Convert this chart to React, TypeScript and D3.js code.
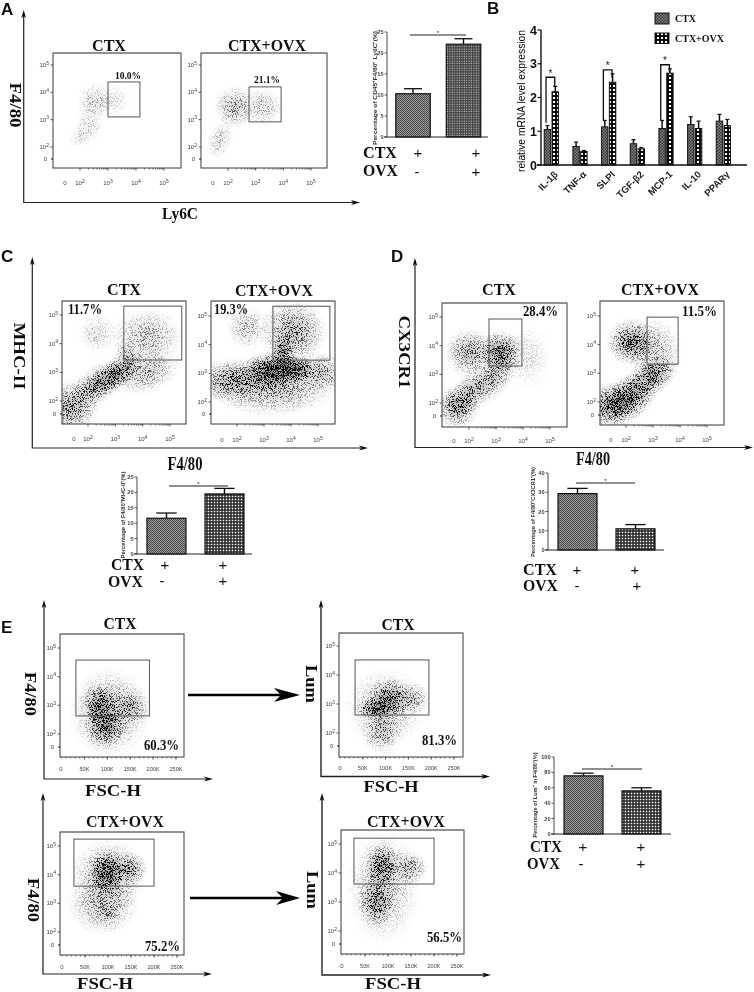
import React from "react";
import * as d3 from "d3";

// ---------- data ----------
const groups = ["CTX", "CTX+OVX"];
const meanA = [10.3, 22.1];
const topA = [11.5, 23.4];
const meanC = [11.6, 19.5];
const topC = [13.3, 21.3];
const meanD = [29.3, 11.0];
const topD = [32.0, 13.2];
const meanE = [75.5, 56.0];
const topE = [79.0, 60.0];
const ticksA = [0, 5, 10, 15, 20, 25];
const ticksD = [0, 10, 20, 30, 40];
const ticksE = [0, 20, 40, 60, 80, 100];

const genes = ["IL-1β", "TNF-α", "SLPI", "TGF-β2", "MCP-1", "IL-10", "PPARγ"];
const ctxExpr = [1.05, 0.55, 1.13, 0.63, 1.08, 1.2, 1.3];
const ovxExpr = [2.17, 0.4, 2.45, 0.48, 2.72, 1.08, 1.17];
const ctxExprTop = [1.17, 0.68, 1.32, 0.75, 1.32, 1.43, 1.5];
const ovxExprTop = [2.33, 0.43, 2.7, 0.52, 2.85, 1.3, 1.35];
const sigGenes = ["IL-1β", "SLPI", "MCP-1"];
const sigTop = [2.6, 2.82, 2.97];
const sigLeft = [1.25, 1.33, 1.33];
const sigRight = [2.33, 2.58, 2.75];

// density clouds: [x, y, spreadX, spreadY, tilt, density] — x/y in log10 units (E panels: x in K)
type Cloud = number[];
const cloudsA1: Cloud[] = [[2.54, 3.65, 0.7, 0.75, 0, 0.2], [2.3, 2.75, 0.55, 0.7, 20, 0.14], [3.25, 3.72, 0.6, 0.6, 0, 0.1], [2.0, 2.33, 0.5, 0.3, -30, 0.12]];
const cloudsA2: Cloud[] = [[2.25, 3.47, 0.8, 0.8, 0, 0.34], [3.26, 3.47, 0.8, 0.75, 0, 0.22], [1.7, 2.25, 0.45, 0.8, 20, 0.18]];
const cloudsC1: Cloud[] = [[3.06, 2.98, 1.25, 0.55, -35, 0.72], [2.33, 2.56, 1.2, 0.65, -35, 0.5], [1.42, 1.8, 1.1, 0.95, -35, 0.5], [4.15, 3.0, 1.3, 0.75, -20, 0.32], [4.15, 4.23, 1.4, 1.05, 0, 0.28], [2.33, 4.37, 0.75, 0.75, 0, 0.15], [3.4, 3.7, 0.45, 0.45, 0, 0.25]];
const cloudsC2: Cloud[] = [[3.3, 3.08, 1.2, 0.7, 0, 0.95], [4.07, 3.15, 0.85, 0.5, 0, 0.85], [1.85, 2.75, 1.5, 0.8, 0, 0.48], [5.07, 3.05, 1.2, 0.7, 0, 0.38], [3.3, 2.55, 2.5, 1.1, 0, 0.4], [4.07, 4.45, 1.3, 1.2, 0, 0.46], [3.7, 3.7, 0.45, 0.7, 0, 0.65], [2.37, 4.6, 0.8, 0.8, 0, 0.24]];
const cloudsD1: Cloud[] = [[3.15, 3.77, 0.85, 0.8, 0, 0.7], [2.04, 3.75, 1.0, 0.9, 0, 0.44], [2.9, 2.9, 1.2, 0.65, -50, 0.42], [2.04, 2.35, 1.15, 0.65, -45, 0.46], [1.55, 1.85, 0.85, 0.8, 0, 0.48], [4.15, 3.6, 0.9, 1.2, 0, 0.12]];
const cloudsD2: Cloud[] = [[2.2, 4.1, 0.95, 0.85, 0, 0.64], [3.05, 3.8, 1.05, 1.2, 0, 0.28], [2.9, 2.85, 1.25, 0.65, -35, 0.62], [2.05, 2.1, 1.2, 0.8, -35, 0.8], [1.4, 1.85, 0.85, 0.85, 0, 0.58]];
const cloudsE1: Cloud[] = [[84, 3.0, 42, 0.8, 0, 0.62], [95, 2.25, 48, 0.8, 0, 0.58], [149, 2.93, 48, 0.7, 0, 0.36], [105, 2.75, 92, 1.65, 0, 0.32]];
const cloudsE3: Cloud[] = [[98, 4.1, 42, 0.78, 0, 0.82], [145, 4.2, 42, 0.6, 0, 0.46], [100, 4.0, 85, 1.3, 0, 0.34], [90, 3.0, 82, 1.15, 0, 0.32], [100, 2.65, 28, 0.45, 0, 0.22]];
const cloudsE2: Cloud[] = [[80, 2.85, 48, 0.4, 0, 0.75], [108, 3.18, 48, 0.7, 0, 0.6], [158, 3.2, 42, 0.6, 0, 0.32], [92, 2.05, 48, 0.8, 0, 0.34], [100, 2.9, 92, 1.4, 0, 0.26]];
const cloudsE4: Cloud[] = [[88, 4.25, 42, 0.85, 0, 0.6], [148, 4.18, 42, 0.6, 0, 0.38], [75, 3.0, 42, 0.95, 0, 0.5], [90, 3.5, 82, 2.0, 0, 0.26]];

const percents = ["10.0%", "21.1%", "11.7%", "19.3%", "28.4%", "11.5%", "60.3%", "75.2%", "81.3%", "56.5%"];
const logTicks = [2, 3, 4, 5];
const fscTicks = [50, 100, 150, 200, 250];

// ---------- layout ----------
const SERIF = "'Liberation Serif', serif";
const SANS = "'Liberation Sans', Arial, sans-serif";

type Panel = { id: string; kind: "log" | "lin"; box: number[]; xr: number[]; yr: number[]; x0: number; y0: number; ly: number; gate: number[]; clouds: Cloud[] };
const panels: Panel[] = [
  { id: "a1", kind: "log", box: [53, 53, 181, 168], xr: [80, 164], yr: [147, 65], x0: 65, y0: 159, ly: 183, gate: [3.0, 4.14, 3.1, 4.38], clouds: cloudsA1 },
  { id: "a2", kind: "log", box: [201, 53, 327, 168], xr: [228, 311], yr: [147, 65], x0: 213, y0: 159, ly: 183, gate: [2.76, 3.92, 2.92, 4.2], clouds: cloudsA2 },
  { id: "c1", kind: "log", box: [62, 301, 186, 424], xr: [88, 170], yr: [401, 315], x0: 74, y0: 414, ly: 439, gate: [3.31, 5.43, 3.43, 5.31], clouds: cloudsC1 },
  { id: "c2", kind: "log", box: [211, 301, 335, 424], xr: [237, 318], yr: [402, 316], x0: 222, y0: 414, ly: 440, gate: [3.33, 5.44, 3.46, 5.34], clouds: cloudsC2 },
  { id: "d1", kind: "log", box: [442, 303, 567, 427], xr: [469, 550], yr: [403, 317], x0: 454, y0: 416, ly: 441, gate: [2.74, 3.96, 3.29, 4.93], clouds: cloudsD1 },
  { id: "d2", kind: "log", box: [600, 301, 724, 425], xr: [626, 707], yr: [402, 316], x0: 611, y0: 415, ly: 440, gate: [2.78, 3.93, 3.32, 4.96], clouds: cloudsD2 },
  { id: "e1", kind: "lin", box: [60, 634, 184, 757], xr: [61.5, 176], yr: [734, 648], x0: 61, y0: 747, ly: 769, gate: [31.5, 192, 2.63, 4.58], clouds: cloudsE1 },
  { id: "e3", kind: "lin", box: [60, 832, 184, 955], xr: [62, 177], yr: [932, 846], x0: 62, y0: 945, ly: 967, gate: [26, 200, 3.6, 5.24], clouds: cloudsE3 },
  { id: "e2", kind: "lin", box: [339, 633, 463, 757], xr: [340, 454], yr: [733, 646], x0: 340, y0: 746, ly: 768, gate: [33, 195, 2.62, 4.52], clouds: cloudsE2 },
  { id: "e4", kind: "lin", box: [341, 830, 464, 954], xr: [342, 457], yr: [931, 844], x0: 342, y0: 944, ly: 966, gate: [26, 200, 3.62, 5.2], clouds: cloudsE4 },
];

function scalesOf(p: Panel) {
  const x = d3.scaleLinear().domain(p.kind === "log" ? [2, 5] : [0, 250]).range(p.xr);
  const y = d3.scaleLinear().domain([2, 5]).range(p.yr);
  return { x, y };
}

const T = ({ x, y, s, len, size = 16, rot, anchor = "middle", font = SERIF, weight = 700, fill = "#111" }: any) => (
  <text
    x={rot ? 0 : x}
    y={rot ? 0 : y}
    transform={rot ? `translate(${x},${y}) rotate(${rot})` : undefined}
    textAnchor={anchor}
    fontFamily={font}
    fontWeight={weight}
    fontSize={size}
    fill={fill}
    textLength={len}
    lengthAdjust={len ? "spacingAndGlyphs" : undefined}
  >
    {s}
  </text>
);

// axis with barbed arrowheads, L shaped
const LAxis = ({ x, top, y, right, w = 1.2 }: any) => (
  <g>
    <path d={`M${x},${top + 3}V${y}H${right - 3}`} fill="none" stroke="#222" strokeWidth={w} />
    <path d={`M${x},${top}l-2.3,8l2.3,-2l2.3,2z`} fill="#111" />
    <path d={`M${right},${y}l-9,-2.6l2.5,2.6l-2.5,2.6z`} fill="#111" />
  </g>
);

const FlowFrame = ({ p }: { p: Panel }) => {
  const { x, y } = scalesOf(p);
  const [x0, y0, x1, y1] = p.box;
  const minor =
    p.kind === "log"
      ? logTicks.slice(0, 3).flatMap((d) => d3.range(2, 10).map((m) => d + Math.log10(m)))
      : d3.range(0, 260, 10);
  const [gx0, gx1, gy0, gy1] = p.gate;
  return (
    <g>
      <rect x={x0} y={y0} width={x1 - x0} height={y1 - y0} fill="none" stroke="#3a3a3a" strokeWidth={1} />
      <line x1={x0} x2={x1} y1={y0} y2={y0} stroke="#888" strokeWidth={1.2} />
      <rect x={x(gx0)} y={y(gy1)} width={x(gx1) - x(gx0)} height={y(gy0) - y(gy1)} fill="none" stroke="#555" strokeWidth={1} />
      {minor.map((m, i) => (
        <line key={i} x1={x(m)} x2={x(m)} y1={y1} y2={y1 + 1.6} stroke="#333" strokeWidth={0.6} />
      ))}
      {logTicks.map((d) => (
        <g key={d}>
          <line x1={x0 - 2.5} x2={x0} y1={y(d)} y2={y(d)} stroke="#333" strokeWidth={0.8} />
          <text x={x0 - 4} y={y(d) + 2} textAnchor="end" fontFamily={SANS} fontSize={6} fill="#444">
            10<tspan dy={-2.4} fontSize={5}>{d}</tspan>
          </text>
        </g>
      ))}
      <line x1={x0 - 2} x2={x0} y1={p.y0} y2={p.y0} stroke="#111" strokeWidth={1.2} />
      <text x={x0 - 6} y={p.y0 + 2} textAnchor="end" fontFamily={SANS} fontSize={6} fill="#444">0</text>
      <text x={p.x0} y={p.ly + 2} textAnchor="middle" fontFamily={SANS} fontSize={6} fill="#444">0</text>
      {p.kind === "log"
        ? logTicks.map((d) => (
            <g key={d}>
              <line x1={x(d)} x2={x(d)} y1={y1} y2={y1 + 2.6} stroke="#333" strokeWidth={0.8} />
              <text x={x(d)} y={p.ly + 2} textAnchor="middle" fontFamily={SANS} fontSize={6} fill="#444">
                10<tspan dy={-2.4} fontSize={5}>{d}</tspan>
              </text>
            </g>
          ))
        : fscTicks.map((d) => (
            <g key={d}>
              <line x1={x(d)} x2={x(d)} y1={y1} y2={y1 + 2.6} stroke="#333" strokeWidth={0.8} />
              <text x={x(d)} y={p.ly + 2} textAnchor="middle" fontFamily={SANS} fontSize={5.6} fill="#444">{d}K</text>
            </g>
          ))}
    </g>
  );
};

const Clouds = ({ p }: { p: Panel }) => {
  const { x, y } = scalesOf(p);
  const kx = Math.abs(x(1) - x(0));
  const ky = Math.abs(y(1) - y(0));
  return (
    <g clipPath={`url(#clip-${p.id})`}>
      {p.clouds.map(([cx, cy, sx, sy, tilt, dens], i) => (
        <ellipse
          key={i}
          cx={0}
          cy={0}
          rx={sx * kx}
          ry={sy * ky}
          transform={`translate(${x(cx)},${y(cy)}) rotate(${tilt})`}
          fill="url(#cloud)"
          fillOpacity={dens}
        />
      ))}
    </g>
  );
};

type BarCfg = { mean: number[]; top: number[]; ticks: number[]; max: number; y0: number; yMax: number; axisX: number; end: number; centers: number[]; w: number; sigY: number; sig: number[]; label: string; labelX: number; labelY: number; labelLen: number; rowX: number[]; rowY: number[]; ctxLen: number[]; sign: number[]; signY: number[]; fill2: string };

const barCfgs: BarCfg[] = [
  { mean: meanA, top: topA, ticks: ticksA, max: 25, y0: 137, yMax: 32, axisX: 387, end: 488, centers: [413, 463.5], w: 34.5, sigY: 35, sig: [410, 466], label: "Percentage of CD45⁺F4/80⁺ Ly6C⁺(%)", labelX: 377, labelY: 88, labelLen: 114, rowX: [363, 363], rowY: [158, 176], ctxLen: [34, 35], sign: [418, 476, 417, 476], signY: [153, 172], fill2: "url(#checkFine)" },
  { mean: meanC, top: topC, ticks: ticksA, max: 25, y0: 554, yMax: 477, axisX: 137, end: 252, centers: [166.5, 224.5], w: 39, sigY: 486, sig: [169, 228], label: "Percentage of F4/80⁺MHC-II⁺(%)", labelX: 125, labelY: 515, labelLen: 87, rowX: [111, 108], rowY: [570, 587], ctxLen: [33, 35], sign: [165, 223, 162, 223], signY: [565, 581], fill2: "url(#check)" },
  { mean: meanD, top: topD, ticks: ticksD, max: 40, y0: 550, yMax: 473, axisX: 548, end: 664, centers: [577.5, 635.5], w: 39, sigY: 483, sig: [576, 635], label: "Percentage of F4/80⁺CX3CR1⁺(%)", labelX: 535, labelY: 512, labelLen: 90, rowX: [523, 523], rowY: [575, 591], ctxLen: [34, 35], sign: [577, 635, 577, 637], signY: [570, 586], fill2: "url(#check)" },
  { mean: meanE, top: topE, ticks: ticksE, max: 100, y0: 834, yMax: 757, axisX: 554, end: 671, centers: [583.5, 641.5], w: 39, sigY: 769, sig: [582, 642], label: "Percentage of Lum⁺ in F4/80⁺(%)", labelX: 537, labelY: 795, labelLen: 85, rowX: [530, 527], rowY: [852, 869], ctxLen: [32, 33], sign: [583, 641, 581, 641], signY: [847, 864], fill2: "url(#check)" },
];

const BarPanel = ({ c }: { c: BarCfg }) => {
  const y = d3.scaleLinear().domain([0, c.max]).range([c.y0, c.yMax]);
  const x = d3.scalePoint<string>().domain(groups).range(c.centers as [number, number]);
  return (
    <g>
      {groups.map((g, i) => {
        const cx = x(g)!;
        return (
          <g key={g}>
            <line x1={cx} x2={cx} y1={y(c.mean[i])} y2={y(c.top[i])} stroke="#111" strokeWidth={1.4} />
            <line x1={cx - c.w * 0.26} x2={cx + c.w * 0.26} y1={y(c.top[i])} y2={y(c.top[i])} stroke="#111" strokeWidth={1.3} />
            <rect x={cx - c.w / 2} y={y(c.mean[i])} width={c.w} height={c.y0 - y(c.mean[i])} fill={i === 0 ? "url(#hatch)" : c.fill2} stroke="#111" strokeWidth={1.2} />
          </g>
        );
      })}
      <line x1={c.axisX} x2={c.axisX} y1={c.y0} y2={c.yMax} stroke="#333" strokeWidth={0.9} />
      <line x1={c.axisX - 3} x2={c.end} y1={c.y0} y2={c.y0} stroke="#222" strokeWidth={1} />
      {c.ticks.map((t) => (
        <g key={t}>
          <line x1={c.axisX - 2.5} x2={c.axisX} y1={y(t)} y2={y(t)} stroke="#333" strokeWidth={0.8} />
          <text x={c.axisX - 3.5} y={y(t) + 2} textAnchor="end" fontFamily={SANS} fontWeight={700} fontSize={5.6} fill="#444">{t}</text>
        </g>
      ))}
      <line x1={c.sig[0]} x2={c.sig[1]} y1={c.sigY} y2={c.sigY} stroke="#222" strokeWidth={1.1} />
      <T x={(c.sig[0] + c.sig[1]) / 2} y={c.sigY - 0.5} s="*" size={6} font={SANS} weight={400} />
      <T x={c.labelX} y={c.labelY} s={c.label} size={5.6} len={c.labelLen} rot={-90} font={SANS} fill="#333" />
      <T x={c.rowX[0]} y={c.rowY[0]} s="CTX" anchor="start" len={c.ctxLen[0]} />
      <T x={c.rowX[1]} y={c.rowY[1]} s="OVX" anchor="start" len={c.ctxLen[1]} />
      <T x={c.sign[0]} y={c.signY[0] + 5} s="+" size={15} font={SANS} weight={400} />
      <T x={c.sign[1]} y={c.signY[0] + 5} s="+" size={15} font={SANS} weight={400} />
      <T x={c.sign[2]} y={c.signY[1] + 5} s="-" size={15} font={SANS} weight={400} />
      <T x={c.sign[3]} y={c.signY[1] + 5} s="+" size={15} font={SANS} weight={400} />
    </g>
  );
};

const Expression = () => {
  const y = d3.scaleLinear().domain([0, 4]).range([165, 30]);
  const x = d3.scaleBand().domain(genes).range([537, 737.7]);
  const cx = (g: string) => x(g)! + x.bandwidth() / 2;
  const W = 6.4;
  const series = [
    { v: ctxExpr, t: ctxExprTop, off: -3.9, fill: "url(#hatchB)" },
    { v: ovxExpr, t: ovxExprTop, off: 3.9, fill: "url(#checkB)" },
  ];
  return (
    <g>
      {series.map((s, k) =>
        genes.map((g, i) => {
          const bx = cx(g) + s.off;
          return (
            <g key={`${k}-${g}`}>
              <line x1={bx} x2={bx} y1={y(s.v[i])} y2={y(s.t[i])} stroke="#111" strokeWidth={1.5} />
              <line x1={bx - 2} x2={bx + 2} y1={y(s.t[i])} y2={y(s.t[i])} stroke="#111" strokeWidth={1.2} />
              <rect x={bx - W / 2} y={y(s.v[i])} width={W} height={165 - y(s.v[i])} fill={s.fill} stroke="#111" strokeWidth={1} />
            </g>
          );
        })
      )}
      <line x1={541} x2={541} y1={165} y2={30} stroke="#111" strokeWidth={1.4} />
      <line x1={537} x2={747} y1={165} y2={165} stroke="#111" strokeWidth={1.4} />
      {[0, 1, 2, 3, 4].map((t) => (
        <g key={t}>
          <line x1={537.5} x2={541} y1={y(t)} y2={y(t)} stroke="#111" strokeWidth={1.2} />
          <T x={537} y={y(t) + 4.5} s={t} anchor="end" size={12.5} font={SANS} />
        </g>
      ))}
      <T x={525} y={101} s="relative mRNA level expression" size={11.5} len={142} rot={-90} font={SANS} weight={400} fill="#000" />
      {genes.map((g) => (
        <T key={g} x={cx(g) + 7} y={175} s={g} anchor="end" size={9.6} rot={-45} font={SANS} fill="#222" />
      ))}
      {sigGenes.map((g, i) => {
        const l = cx(g) - 5.3;
        const r = cx(g) + 3.4;
        return (
          <g key={g}>
            <path d={`M${l},${y(sigLeft[i])}V${y(sigTop[i])}H${r}V${y(sigRight[i])}`} fill="none" stroke="#111" strokeWidth={1.3} />
            <T x={(l + r) / 2} y={y(sigTop[i]) - 0.5} s="*" size={10} font={SANS} weight={400} />
          </g>
        );
      })}
      <rect x={655} y={13} width={14} height={11} fill="url(#hatchB)" stroke="#111" strokeWidth={1} />
      <rect x={655} y={33} width={14} height={10.5} fill="url(#checkB)" stroke="#111" strokeWidth={1} />
      <T x={675} y={22} s="CTX" anchor="start" size={11} len={21} />
      <T x={675} y={42} s="CTX+OVX" anchor="start" size={11} len={49} />
    </g>
  );
};

const pctPos: [number, number, number, string][] = [
  [128, 79, 26, "middle"], [267, 83, 26, "middle"], [68, 314, 34, "start"], [214, 314, 34, "start"], [523, 316, 35, "start"],
  [682, 316, 35, "start"], [144, 750, 35, "start"], [145, 951, 35, "start"], [422, 745, 35, "start"], [427, 942, 35, "start"],
];

export default function App() {
  return (
    <svg width={754} height={992} viewBox="0 0 754 992" style={{ position: "absolute", left: 0, top: 0, display: "block", background: "#fff" }}>
      <defs>
        <radialGradient id="cloud">
          <stop offset="0" stopColor="#000" stopOpacity={1} />
          <stop offset="0.3" stopColor="#000" stopOpacity={0.8} />
          <stop offset="0.5" stopColor="#000" stopOpacity={0.52} />
          <stop offset="0.7" stopColor="#000" stopOpacity={0.26} />
          <stop offset="0.85" stopColor="#000" stopOpacity={0.1} />
          <stop offset="1" stopColor="#000" stopOpacity={0} />
        </radialGradient>
        <filter id="stipple" filterUnits="userSpaceOnUse" x={0} y={0} width={754} height={992} colorInterpolationFilters="sRGB">
          <feTurbulence type="fractalNoise" baseFrequency={1.23} numOctaves={3} seed={11} result="n" />
          <feColorMatrix in="n" type="matrix" values="0 0 0 0 0  0 0 0 0 0  0 0 0 0 0  0 0 0 4.2 -1.6" result="na" />
          <feComposite in="SourceAlpha" in2="na" operator="arithmetic" k1={0} k2={2} k3={2} k4={-2} result="dots" />
          <feColorMatrix in="SourceAlpha" type="matrix" values="0 0 0 0 0  0 0 0 0 0  0 0 0 0 0  0 0 0 0.42 0" result="tone" />
          <feMerge>
            <feMergeNode in="tone" />
            <feMergeNode in="dots" />
          </feMerge>
        </filter>
        <filter id="soft" filterUnits="userSpaceOnUse" x={0} y={0} width={754} height={992}>
          <feGaussianBlur stdDeviation={0.42} />
        </filter>
        <pattern id="hatch" width={2} height={2} patternUnits="userSpaceOnUse">
          <rect width={2} height={2} fill="#9a9a9a" />
          <rect width={1} height={1} fill="#4a4a4a" />
          <rect x={1} y={1} width={1} height={1} fill="#4a4a4a" />
        </pattern>
        <pattern id="check" width={3} height={3} patternUnits="userSpaceOnUse">
          <rect width={3} height={3} fill="#1c1c1c" />
          <rect x={0.7} y={0.7} width={1.6} height={1.6} fill="#fff" />
        </pattern>
        <pattern id="checkFine" width={2.4} height={2.4} patternUnits="userSpaceOnUse">
          <rect width={2.4} height={2.4} fill="#3c3c3c" />
          <rect x={0.5} y={0.5} width={1.2} height={1.2} fill="#ccc" />
        </pattern>
        <pattern id="hatchB" width={3} height={3} patternUnits="userSpaceOnUse">
          <rect width={3} height={3} fill="#888" />
          <rect width={1.5} height={1.5} fill="#333" />
          <rect x={1.5} y={1.5} width={1.5} height={1.5} fill="#333" />
        </pattern>
        <pattern id="checkB" width={4} height={4} patternUnits="userSpaceOnUse">
          <rect width={4} height={4} fill="#111" />
          <rect x={1} y={1} width={2} height={2} fill="#fff" />
        </pattern>
        {panels.map((p) => (
          <clipPath id={`clip-${p.id}`} key={p.id}>
            <rect x={p.box[0]} y={p.box[1]} width={p.box[2] - p.box[0]} height={p.box[3] - p.box[1]} />
          </clipPath>
        ))}
      </defs>
      <rect width={754} height={992} fill="#fff" />
      <g filter="url(#soft)">
        <g filter="url(#stipple)">
          {panels.map((p) => (
            <Clouds key={p.id} p={p} />
          ))}
        </g>
        {panels.map((p) => (
          <FlowFrame key={p.id} p={p} />
        ))}
        {percents.map((s, i) => (
          <T key={s} x={pctPos[i][0]} y={pctPos[i][1]} s={s} len={pctPos[i][2]} anchor={pctPos[i][3]} size={i < 2 ? 11 : 14} />
        ))}

        {/* panel letters */}
        <T x={1} y={15} s="A" anchor="start" size={17} font={SANS} />
        <T x={487} y={14} s="B" anchor="start" size={17} font={SANS} />
        <T x={1} y={262} s="C" anchor="start" size={17} font={SANS} />
        <T x={391} y={262} s="D" anchor="start" size={17} font={SANS} />
        <T x={1} y={633} s="E" anchor="start" size={17} font={SANS} />

        {/* big axes */}
        <LAxis x={23.7} top={10} y={202.5} right={360} />
        <LAxis x={32.3} top={257} y={448} right={368} />
        <LAxis x={415} top={258} y={447.5} right={753} />
        <LAxis x={44} top={600} y={779} right={213} />
        <LAxis x={43} top={793} y={974} right={212} />
        <LAxis x={321} top={600} y={776.5} right={490} w={1.4} />
        <LAxis x={322} top={793} y={975} right={491} w={1.4} />

        {/* bold arrows between plots */}
        <path d="M188,695H292" stroke="#000" strokeWidth={2.6} />
        <path d="M300,695l-26,-7l7,7l-7,7z" fill="#000" />
        <path d="M190,898H292" stroke="#000" strokeWidth={2.6} />
        <path d="M300,898l-24,-7l7,7l-7,7z" fill="#000" />

        {/* titles */}
        <T x={109} y={51} s="CTX" len={34} />
        <T x={267} y={51} s="CTX+OVX" len={78} />
        <T x={124} y={295} s="CTX" len={34} />
        <T x={274} y={296} s="CTX+OVX" len={78} />
        <T x={499} y={295} s="CTX" len={34} />
        <T x={660} y={295} s="CTX+OVX" len={78} />
        <T x={120} y={629} s="CTX" len={33} />
        <T x={125} y={827} s="CTX+OVX" len={78} />
        <T x={398} y={630} s="CTX" len={33} />
        <T x={406} y={827} s="CTX+OVX" len={78} />

        {/* axis titles */}
        <T x={10} y={105} s="F4/80" rot={90} len={45} size={17} />
        <T x={14} y={356} s="MHC-II" rot={90} len={67} size={16} />
        <T x={399} y={352} s="CX3CR1" rot={90} len={73} size={16} />
        <T x={25} y={694} s="F4/80" rot={90} len={44} size={17} />
        <T x={28} y={900} s="F4/80" rot={90} len={44} size={17} />
        <T x={306} y={684} s="Lum" rot={90} len={38} size={17} />
        <T x={307} y={890} s="Lum" rot={90} len={38} size={17} />
        <T x={180} y={219} s="Ly6C" len={36} />
        <T x={185} y={470} s="F4/80" len={35} size={18} />
        <T x={593} y={465} s="F4/80" len={34} size={18} />
        <T x={113} y={796} s="FSC-H" len={56} size={17} />
        <T x={105} y={989} s="FSC-H" len={56} size={17} />
        <T x={391} y={792} s="FSC-H" len={55} size={17} />
        <T x={393} y={989} s="FSC-H" len={56} size={17} />

        {barCfgs.map((c) => (
          <BarPanel key={c.label} c={c} />
        ))}
        <Expression />
      </g>
    </svg>
  );
}
